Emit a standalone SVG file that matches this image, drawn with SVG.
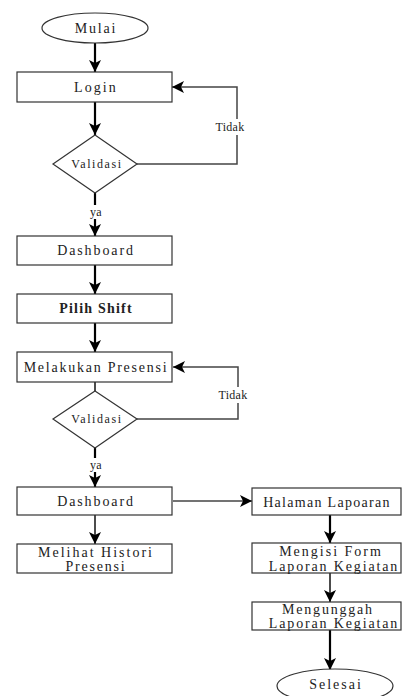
<svg xmlns="http://www.w3.org/2000/svg" width="403" height="696" viewBox="0 0 403 696">
<style>
.box{fill:#fff;stroke:#333;stroke-width:1.2}
text{font-family:"Liberation Serif","Times New Roman",serif}
.t{font-size:14px;fill:#222;text-anchor:middle;dominant-baseline:central;letter-spacing:1.8px}
.s{font-size:12px;letter-spacing:1.6px}
.lbl{font-size:12px;letter-spacing:0.3px}
.b{font-weight:bold;letter-spacing:1.2px}
.thick{fill:none;stroke:#000;stroke-width:2.2}
.thin{fill:none;stroke:#111;stroke-width:1.5}
.gray{fill:none;stroke:#444;stroke-width:1.5}
</style>
<defs>
<marker id="ah" markerUnits="userSpaceOnUse" markerWidth="14" markerHeight="14" refX="12" refY="7" orient="auto">
<path d="M0,1 L12,7 L0,13 L3,7 Z" fill="#000"/>
</marker>
</defs>
<rect width="403" height="696" fill="#fff"/>
<g id="connectors">
<line class="thick" x1="95" y1="43" x2="95" y2="72" marker-end="url(#ah)"/>
<line class="thick" x1="95" y1="102" x2="95" y2="135" marker-end="url(#ah)"/>
<path class="gray" d="M137,164 H237 V87 H172" marker-end="url(#ah)"/>
<line class="thick" x1="95" y1="193" x2="95" y2="236" marker-end="url(#ah)"/>
<line class="thick" x1="95" y1="265" x2="95" y2="294" marker-end="url(#ah)"/>
<line class="thick" x1="95" y1="323" x2="95" y2="352" marker-end="url(#ah)"/>
<line class="thin" x1="95" y1="382" x2="95" y2="391"/>
<path class="gray" d="M137,419 H238 V367 H173" marker-end="url(#ah)"/>
<line class="thick" x1="95" y1="448" x2="95" y2="487" marker-end="url(#ah)"/>
<line class="gray" x1="173" y1="501" x2="252" y2="501" marker-end="url(#ah)"/>
<line class="thin" x1="95" y1="515" x2="95" y2="544" marker-end="url(#ah)"/>
<line class="thick" x1="330" y1="515" x2="330" y2="543" marker-end="url(#ah)"/>
<line class="thin" x1="330" y1="573" x2="330" y2="602" marker-end="url(#ah)"/>
<line class="thick" x1="330" y1="630" x2="330" y2="670" marker-end="url(#ah)"/>
<g id="label-tidak-1"><rect x="214" y="119" width="32" height="16" fill="#fff"/><text class="t lbl" x="230" y="127">Tidak</text></g>
<g id="label-ya-1"><rect x="87" y="205" width="16" height="14" fill="#fff"/><text class="t lbl" x="96" y="212">ya</text></g>
<g id="label-tidak-2"><rect x="217" y="387" width="32" height="16" fill="#fff"/><text class="t lbl" x="233" y="395">Tidak</text></g>
<g id="label-ya-2"><rect x="87" y="458" width="16" height="14" fill="#fff"/><text class="t lbl" x="96" y="465">ya</text></g>
</g>
<g id="mulai"><ellipse class="box" cx="95" cy="28" rx="53" ry="15"/><text class="t" x="96" y="28">Mulai</text></g>
<g id="login"><rect class="box" x="17" y="72" width="155" height="30"/><text class="t" x="96" y="87" style="letter-spacing:2.1px">Login</text></g>
<g id="validasi-1"><polygon class="box" points="95,135 137,164 95,193 53,164"/><text class="t s" x="97" y="164">Validasi</text></g>
<g id="dashboard-1"><rect class="box" x="17" y="236" width="155" height="29"/><text class="t" x="96" y="250.5" style="letter-spacing:1.9px">Dashboard</text></g>
<g id="pilih-shift"><rect class="box" x="17" y="294" width="155" height="29"/><text class="t b" x="96" y="308.5">Pilih Shift</text></g>
<g id="melakukan-presensi"><rect class="box" x="17" y="352" width="155" height="30"/><text class="t" x="96" y="367" style="letter-spacing:1.75px">Melakukan Presensi</text></g>
<g id="validasi-2"><polygon class="box" points="95,391 137,419 95,448 53,419"/><text class="t s" x="97" y="419">Validasi</text></g>
<g id="dashboard-2"><rect class="box" x="17" y="487" width="155" height="28"/><text class="t" x="96" y="501" style="letter-spacing:1.9px">Dashboard</text></g>
<g id="melihat-histori"><rect class="box" x="17" y="544" width="155" height="29"/><text class="t" x="96" y="552" style="letter-spacing:2px">Melihat Histori</text><text class="t" x="96" y="566">Presensi</text></g>
<g id="halaman-lapoaran"><rect class="box" x="252" y="488" width="149" height="27"/><text class="t" x="327" y="502" style="letter-spacing:1.3px">Halaman Lapoaran</text></g>
<g id="mengisi-form"><rect class="box" x="252" y="543" width="149" height="30"/><text class="t" x="331" y="551" style="letter-spacing:2px">Mengisi Form</text><text class="t" x="334" y="566" style="letter-spacing:1.85px">Laporan Kegiatan</text></g>
<g id="mengunggah"><rect class="box" x="252" y="602" width="149" height="28"/><text class="t" x="328" y="609">Mengunggah</text><text class="t" x="334" y="623" style="letter-spacing:1.85px">Laporan Kegiatan</text></g>
<g id="selesai"><ellipse class="box" cx="335" cy="686" rx="58" ry="17"/><text class="t" x="336" y="684" style="letter-spacing:2px">Selesai</text></g>
</svg>
